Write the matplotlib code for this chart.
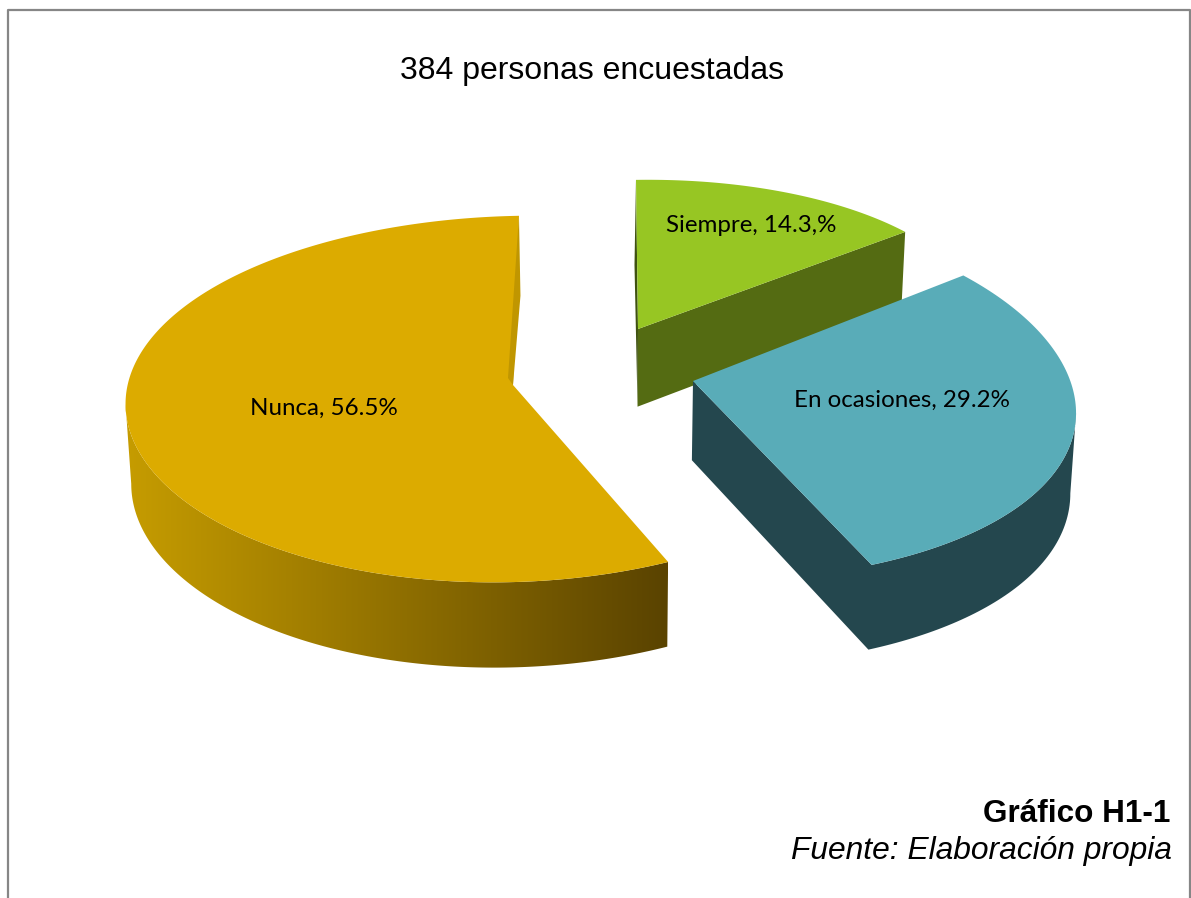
import numpy as np
import matplotlib
matplotlib.use("Agg")
import matplotlib.pyplot as plt
from matplotlib.colors import to_rgb
from matplotlib.patches import Polygon

# data, clockwise from the top
names = ["Siempre", "En ocasiones", "Nunca"]
values = [14.3, 29.2, 56.5]
labels = ["Siempre, 14.3,%", "En ocasiones, 29.2%", "Nunca, 56.5%"]
title = "384 personas encuestadas"
caption = "Gráfico H1-1"
source = "Fuente: Elaboración propia"

FIRST_ANGLE = 1.0
W, H = 1191, 898

# per slice look of the fake 3d pie, in pixels
# apex x, apex y, rx, skew x, ry, skew y, persp x, persp y
shape = {
    "Siempre": (638, 329, 343, -8, 149, 8, 0.0, 0.0),
    "En ocasiones": (693, 381, 378, -16, 184, -2, 0.12, 0.0765),
    "Nunca": (513, 385, 387, -0.5, 182, 10, 0.05, 0.0765),
}
top_colors = {"Siempre": "#97c623", "En ocasiones": "#59acb8", "Nunca": "#dcab00"}
wall_colors = {"Siempre": "#546b12", "En ocasiones": "#24474e"}
label_pos = {"Siempre": (751, 226), "En ocasiones": (902, 400), "Nunca": (324, 408)}


def rim(name, deg):
    ax0, ay0, rx, sx, ry, sy, kx, ky = shape[name]
    t = np.radians(deg)
    s, c = np.sin(t), np.cos(t)
    x = ax0 + (rx * s + sx * c) / (1 + kx * c)
    y = ay0 - (ry * c + sy * s) / (1 + ky * c)
    return x, y


def drop(x, y):
    # bottom edge of the wall under a point of the top face
    return x - (x - 600) * 0.012, y + 78 + (y - 340) * 0.03


fig = plt.figure(figsize=(W / 100, H / 100), dpi=100)
ax = fig.add_axes([0, 0, 1, 1])
ax.axis("off")

# page frame
ax.plot([7.5, 7.5, 1190, 1190], [H, 9.5, 9.5, H], color="#868686", lw=1.6)

edges = FIRST_ANGLE + np.cumsum([0] + values) * 3.6
spans = {n: (edges[i], edges[i + 1]) for i, n in enumerate(names)}

# Siempre
a, b = spans["Siempre"]
th = np.linspace(a, b, 60)
xs, ys = rim("Siempre", th)
ax0, ay0 = shape["Siempre"][:2]
bx, by = drop(xs[-1], ys[-1])
ax1, ay1 = drop(ax0, ay0)
ax.add_patch(Polygon([(ax0, ay0), (xs[-1], ys[-1]), (bx, by), (ax1, ay1)], color=wall_colors["Siempre"], lw=0))
ax.add_patch(Polygon([(xs[0], ys[0]), (xs[0] - 1.5, ys[0] + 85), (ax1, ay1), (ax0, ay0)], color="#3f5210", lw=0))
ax.add_patch(Polygon(np.r_[[(ax0, ay0)], np.c_[xs, ys]], color=top_colors["Siempre"], lw=0))

# En ocasiones
a, b = spans["En ocasiones"]
ax0, ay0 = shape["En ocasiones"][:2]
ax1, ay1 = drop(ax0, ay0)
th = np.linspace(a, b, 120)
xs, ys = rim("En ocasiones", th)
bx, by = drop(xs, ys)
vis = th >= th[np.argmax(xs)]
wall = np.r_[[(ax0, ay0)], np.c_[xs[vis], ys[vis]][::-1], np.c_[bx[vis], by[vis]], [(ax1, ay1)]]
ax.add_patch(Polygon(wall, color=wall_colors["En ocasiones"], lw=0))
ax.add_patch(Polygon(np.r_[[(ax0, ay0)], np.c_[xs, ys]], color=top_colors["En ocasiones"], lw=0))

# Nunca, the wall gets darker to the right
a, b = spans["Nunca"]
ax0, ay0 = shape["Nunca"][:2]
th = np.linspace(a, b, 400)
xs, ys = rim("Nunca", th)
bx, by = drop(xs, ys)
vis = th <= th[np.argmin(xs)]
wall = Polygon(np.r_[np.c_[xs[vis], ys[vis]], np.c_[bx[vis], by[vis]][::-1]], facecolor="none", lw=0)
ax.add_patch(wall)
dark = np.array(to_rgb("#5a4300"))
light = np.array(to_rgb("#c89e00"))
ramp = np.linspace(0, 1, 256)[None, :, None]
grad = ax.imshow(light * (1 - ramp) + dark * ramp, extent=(115, 668, H, 0), aspect="auto", zorder=1)
grad.set_clip_path(wall)
ax.add_patch(Polygon(np.r_[[(ax0, ay0)], np.c_[xs, ys]], color=top_colors["Nunca"], lw=0, zorder=2))
ax.add_patch(Polygon([(xs[-1], ys[-1]), (xs[-1] + 1.5, ys[-1] + 80), (ax0, ay0), (ax0 - 5, ay0 - 7)],
                     color="#c09600", lw=0, zorder=2))
ax.set_xlim(0, W)
ax.set_ylim(H, 0)

for name, lab in zip(names, labels):
    ax.text(*label_pos[name], lab, family="Lato", fontsize=17.4, color="black", ha="center", va="center", zorder=5)

ax.text(592, 71, title, family="Liberation Sans", fontsize=23, ha="center", va="center")
ax.text(1170, 814, caption, family="Liberation Sans", fontsize=22.7, weight="bold", ha="right", va="center")
ax.text(1172, 851, source, family="Liberation Sans", fontsize=22.9, style="italic", ha="right", va="center")

fig.savefig("out.png", dpi=100)
